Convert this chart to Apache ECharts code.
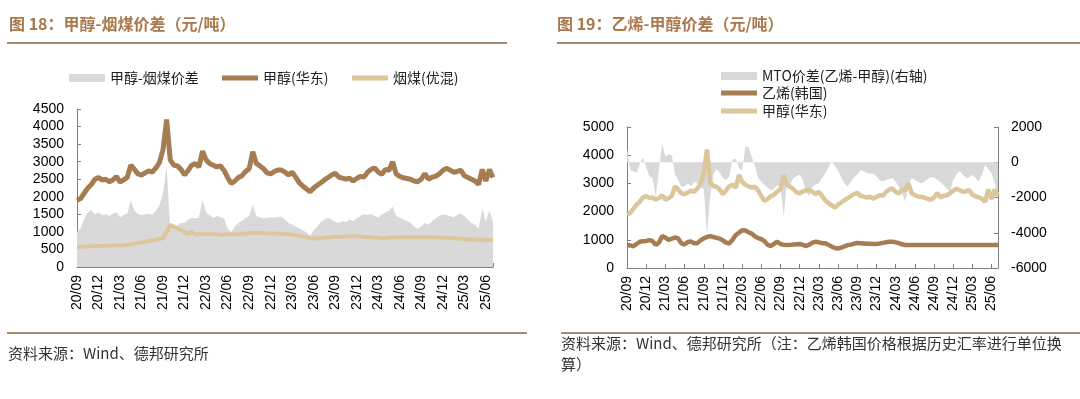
<!DOCTYPE html>
<html>
<head>
<meta charset="utf-8">
<title>甲醇-烟煤价差 / 乙烯-甲醇价差</title>
<script src="https://cdn.jsdelivr.net/npm/echarts@6.0.0/dist/echarts.min.js"></script>
<style>
  html, body { margin: 0; padding: 0; background: #fff; }
  .box { float: left; width: 540px; height: 399px; }
</style>
</head>
<body>
<div id="leftChart" class="box"></div>
<div id="rightChart" class="box"></div>
<script>
// 半月一个点，从 2020/09 开始（x = 月数）
var step = 0.5;
var tickLabels = ['20/09', '20/12', '21/03', '21/06', '21/09', '21/12', '22/03', '22/06', '22/09', '22/12',
  '23/03', '23/06', '23/09', '23/12', '24/03', '24/06', '24/09', '24/12', '25/03', '25/06'];

// 甲醇(华东)
var methanol = [
  1900, 1950, 2100, 2250, 2350, 2500, 2550, 2480, 2500, 2430, 2480, 2580,
  2420, 2480, 2550, 2900, 2780, 2650, 2620, 2680, 2740, 2700, 2820, 2980,
  3350, 4200, 3050, 2900, 2880, 2780, 2620, 2750, 2900, 2950, 2850, 3300,
  3050, 2950, 2900, 2850, 2880, 2750, 2550, 2380, 2450, 2550, 2600, 2720,
  2800, 3280, 2950, 2880, 2800, 2680, 2650, 2720, 2760, 2760, 2700, 2620,
  2700, 2550, 2400, 2300, 2220, 2140, 2250, 2330, 2400, 2480, 2550, 2620,
  2670, 2560, 2530, 2500, 2530, 2450, 2520, 2580, 2560, 2700, 2780, 2820,
  2700, 2640, 2780, 2750, 3000, 2650, 2580, 2540, 2520, 2500, 2450, 2430,
  2500, 2660, 2500, 2560, 2580, 2650, 2750, 2810, 2760, 2700, 2720, 2760,
  2600, 2550, 2500, 2450, 2350, 2780, 2450, 2780, 2550
];
// 烟煤(优混)
var coal = [
  570, 575, 580, 585, 590, 595, 600, 600, 605, 610, 610, 615,
  615, 620, 625, 640, 660, 680, 700, 720, 740, 760, 780, 800,
  820, 1000, 1200, 1150, 1100, 1050, 980, 950, 1000, 920, 940, 930,
  940, 940, 930, 930, 920, 920, 930, 930, 935, 940, 945, 950,
  960, 965, 970, 965, 960, 960, 955, 955, 950, 950, 940, 930,
  920, 905, 890, 870, 850, 820, 815, 820, 825, 830, 840, 850,
  860, 860, 865, 870, 875, 880, 875, 870, 860, 850, 845, 835,
  830, 820, 825, 835, 840, 845, 845, 845, 845, 845, 845, 845,
  845, 845, 845, 845, 840, 840, 835, 830, 825, 820, 815, 805,
  795, 790, 785, 780, 775, 775, 770, 770, 770
];
// 甲醇-烟煤价差
var spreadCoal = [
  1000, 1100, 1380, 1550, 1620, 1500, 1550, 1480, 1500, 1450, 1520, 1560,
  1420, 1480, 1520, 1900, 1600, 1520, 1480, 1500, 1520, 1480, 1600, 1750,
  2100, 2850, 1100, 1150, 1180, 1250, 1250, 1350, 1400, 1380, 1420, 1900,
  1550, 1480, 1400, 1450, 1420, 1380, 1100, 1000, 1150, 1250, 1320, 1400,
  1450, 1780, 1450, 1420, 1380, 1400, 1420, 1400, 1430, 1430, 1350, 1250,
  1200, 1150, 1100, 1050, 980, 900, 1050, 1150, 1280, 1350, 1400, 1350,
  1280, 1250, 1300, 1280, 1350, 1300, 1380, 1450, 1500, 1480, 1520, 1450,
  1400, 1500, 1550, 1600, 1720, 1450, 1400, 1350, 1320, 1250, 1150, 1100,
  1150, 1250, 1200, 1300, 1380, 1450, 1500, 1480, 1450, 1420, 1480, 1530,
  1450, 1350, 1250, 1200, 1100, 1650, 1300, 1600, 1300
];
// 乙烯(韩国)
var ethylene = [
  815, 800, 770, 850, 930, 950, 960, 990, 950, 820, 900, 1130,
  1080, 1000, 1040, 1080, 1050, 880, 830, 920, 940, 880, 880, 980,
  1050, 1100, 1130, 1100, 1070, 1040, 980, 900, 870, 1000, 1170, 1250,
  1340, 1330, 1270, 1220, 1120, 1060, 1020, 950, 820, 780, 860, 930,
  850, 820, 815, 820, 830, 840, 850, 820, 780, 830, 900, 930,
  910, 880, 880, 820, 760, 710, 690, 720, 770, 810, 830, 860,
  890, 880, 870, 860, 860, 850, 855, 870, 890, 910, 930, 935,
  910, 880, 840, 815, 815, 815, 815, 815, 815, 815, 815, 815,
  815, 815, 815, 815, 815, 815, 815, 815, 815, 815, 815, 815,
  815, 815, 815, 815, 815, 815, 815, 815, 815
];
// MTO价差(乙烯-甲醇)，右轴
var spreadMto = [
  790, -450, -500, -600, -100, 300, -300, -800, -900, -1950, -400, 1070,
  300, 450, 400, -700, -1000, -1400, -1350, -1200, -1350, -1100, -1200, -1400,
  -1500, -4100, -1950, -700, -400, -600, -900, -1000, -800, 150, 200, -300,
  -500, 900, 850, 300, -200, -900, -1100, -1300, -1450, -1600, -1500, -1300,
  -1400, -3090, -1100, -1300, -900, -800, -700, -1000, -1700, -1900, -1400, -1250,
  -1200, -900, -630, -300, 40, -200, -450, -900, -1200, -1380, -1100, -850,
  -700, -450, -500, -600, -650, -650, -800, -1000, -1100, -1000, -950, -900,
  -1100, -1400, -1700, -2240, -1300, -900, -1000, -1100, -1200, -1100, -950, -850,
  -850, -1000, -1100, -1300, -1500, -1670, -1000, -700, -500, -700, -900, -850,
  -720, -900, -1100, -700, -160, -400, -630, -1200, -2050
];

var brown = '#a67c52';
var tan = '#dcc69b';
var grey = '#d9d9d9';
var axisColor = '#808080';
var titleColor = '#a9784c';
var ruleColor = '#a88a6c';
var cjk = 'Noto Sans CJK SC';

function pairs(arr) {
  return arr.map(function (v, i) { return [i * step, v]; });
}

function xAxis() {
  return {
    type: 'value', min: 0, max: 58, interval: 3,
    axisLine: { show: true, onZero: false, lineStyle: { color: axisColor } },
    axisTick: { show: true, inside: true, length: 4, lineStyle: { color: axisColor } },
    axisLabel: {
      rotate: 90, margin: 8, fontSize: 14, color: '#000', fontFamily: 'Liberation Sans',
      formatter: function (v) { return v % 3 === 0 ? (tickLabels[v / 3] || '') : ''; }
    },
    splitLine: { show: false }
  };
}

function yAxis(min, max, interval, position) {
  return {
    type: 'value', min: min, max: max, interval: interval, position: position,
    axisLine: { show: true, onZero: false, lineStyle: { color: axisColor } },
    axisTick: { show: true, inside: true, length: 4, lineStyle: { color: axisColor } },
    axisLabel: {
      margin: 13, fontSize: 14, color: '#000', fontFamily: 'Liberation Sans',
      formatter: function (v) { return String(v); }
    },
    splitLine: { show: false }
  };
}

function legendItem(name, left, top, h) {
  return {
    data: [{ name: name, icon: 'rect' }],
    left: left, top: top, itemWidth: 36, itemHeight: h, selectedMode: false,
    textStyle: { fontSize: 14, color: '#222', fontFamily: cjk }
  };
}

function areaSeries(name, data, yIdx) {
  return {
    name: name, type: 'line', yAxisIndex: yIdx, data: pairs(data), symbol: 'none',
    color: grey, lineStyle: { width: 0 }, areaStyle: { color: grey, opacity: 1 }, z: 1
  };
}

function lineSeries(name, data, color, w, yIdx) {
  return {
    name: name, type: 'line', yAxisIndex: yIdx, data: pairs(data), symbol: 'none',
    color: color, lineStyle: { color: color, width: w }, z: 3
  };
}

function text(str, x, y, size, color, weight) {
  return {
    type: 'text', x: x, y: y, silent: true,
    style: { text: str, fill: color, fontSize: size, fontWeight: weight || 'normal', fontFamily: cjk, verticalAlign: 'middle' }
  };
}

function rule(x1, x2, y) {
  return { type: 'line', silent: true, shape: { x1: x1, y1: y, x2: x2, y2: y }, style: { stroke: ruleColor, lineWidth: 2 } };
}

var leftChart = echarts.init(document.getElementById('leftChart'));
leftChart.setOption({
  animation: false,
  grid: { left: 77, top: 109, width: 416, height: 158 },
  legend: [
    legendItem('甲醇-烟煤价差', 64, 66, 8),
    legendItem('甲醇(华东)', 217, 66, 5),
    legendItem('烟煤(优混)', 347, 66, 5)
  ],
  xAxis: xAxis(),
  yAxis: yAxis(0, 4500, 500, 'left'),
  series: [
    areaSeries('甲醇-烟煤价差', spreadCoal, 0),
    lineSeries('烟煤(优混)', coal, tan, 4, 0),
    lineSeries('甲醇(华东)', methanol, brown, 5, 0)
  ],
  graphic: [
    text('图 18：甲醇-烟煤价差（元/吨）', 9, 24, 16, titleColor, 'bold'),
    rule(7, 507, 43),
    rule(7, 527, 333),
    text('资料来源：Wind、德邦研究所', 8, 353, 15, '#333')
  ]
});

var rightChart = echarts.init(document.getElementById('rightChart'));
rightChart.setOption({
  animation: false,
  grid: { left: 87, top: 127, width: 371, height: 141 },
  legend: [
    legendItem('MTO价差(乙烯-甲醇)(右轴)', 176, 64, 8),
    legendItem('乙烯(韩国)', 176, 81, 5),
    legendItem('甲醇(华东)', 176, 99, 5)
  ],
  xAxis: xAxis(),
  yAxis: [
    yAxis(0, 5000, 1000, 'left'),
    yAxis(-6000, 2000, 2000, 'right')
  ],
  series: [
    areaSeries('MTO价差(乙烯-甲醇)(右轴)', spreadMto, 1),
    lineSeries('乙烯(韩国)', ethylene, brown, 4.5, 0),
    lineSeries('甲醇(华东)', methanol, tan, 4.5, 0)
  ],
  graphic: [
    text('图 19：乙烯-甲醇价差（元/吨）', 17, 24, 16, titleColor, 'bold'),
    rule(17, 540, 43),
    rule(21, 540, 333),
    text('资料来源：Wind、德邦研究所（注：乙烯韩国价格根据历史汇率进行单位换', 21, 343, 15, '#333'),
    text('算）', 21, 364, 15, '#333')
  ]
});
</script>
</body>
</html>
